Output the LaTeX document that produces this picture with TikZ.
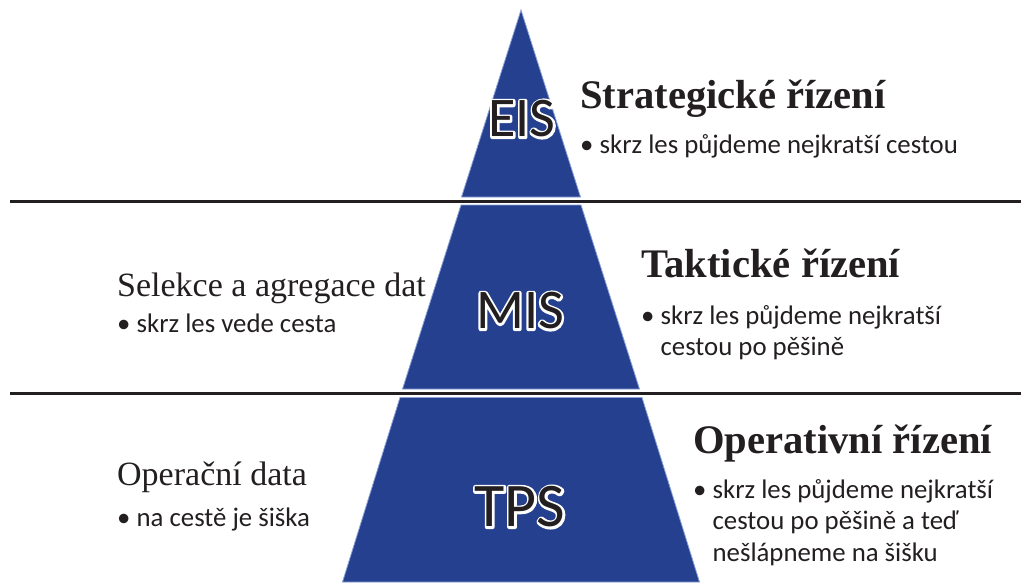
\documentclass[tikz,border=0pt]{standalone}
\usepackage{fontspec}
\setmainfont{Carlito}
\newfontfamily\headserif{Liberation Serif}
\definecolor{pyrblue}{RGB}{36,64,143}
\definecolor{pyredge}{RGB}{140,162,214}
\definecolor{rulegray}{RGB}{35,31,32}
\definecolor{inkblack}{RGB}{35,31,32}
% letters with a white halo: a stroked white copy under the filled one
\newcommand{\haloed}[1]{\rlap{\textcolor{white}{\special{pdf:literal direct 2 Tr 4.4 w 1 j}#1\special{pdf:literal direct 0 Tr}}}#1}
% bullet item whose continuation lines hang under the first word
\newcommand{\hangitem}[1]{\begin{tabular}[t]{@{}l@{}}#1\end{tabular}}
\newcommand{\bulletgap}{\hphantom{\textbullet\ }}
\begin{document}
\begin{tikzpicture}[x=1pt,y=-1pt,
  tier/.style={fill=pyrblue, draw=pyredge, line width=0.8pt, line join=miter},
  divider/.style={draw=rulegray, line width=2.6pt},
  tag/.style={inner sep=0pt, text=inkblack},
  heading/.style={anchor=base west, inner sep=0pt, text=inkblack,
    font=\headserif\bfseries\fontsize{40.6}{41}\selectfont},
  sidehead/.style={anchor=base west, inner sep=0pt, text=inkblack,
    font=\headserif\fontsize{34}{34}\selectfont},
  bullets/.style={anchor=base west, inner sep=0pt, text=inkblack,
    font=\fontsize{26.8}{31.5}\selectfont}
]
\useasboundingbox (0,0) rectangle (1021,582);

% pyramid tiers
\path[tier] (521,10) -- (580.5,197) -- (461.5,197) -- cycle;
\path[tier] (461,205) -- (581,205) -- (639.5,389) -- (402.5,389) -- cycle;
\path[tier] (400,397.5) -- (642,397.5) -- (699.5,582) -- (342.5,582) -- cycle;

% dividing rules
\coordinate (r1a) at (10,201.5);
\coordinate (r1b) at (1021,201.5);
\coordinate (r2a) at (10,393.5);
\coordinate (r2b) at (1021,393.5);
\draw[divider] (r1a) -- (r1b);
\draw[divider] (r2a) -- (r2b);

% tier labels
\node[tag, font=\fontsize{56}{56}\selectfont] (eis) at (522,119) {\haloed{EIS}};
\node[tag, font=\fontsize{56}{56}\selectfont] (mis) at (520,311) {\haloed{MIS}};
\node[tag, font=\fontsize{62}{62}\selectfont] (tps) at (520,507) {\haloed{TPS}};

% right-hand descriptions
\node[heading] (h1) at (580,108) {Strategické řízení};
\node[bullets] (b1) at (580,153) {\textbullet\ skrz les půjdeme nejkratší cestou};

\node[heading] (h2) at (641,277) {Taktické řízení};
\node[bullets] (b2) at (641,324) {\hangitem{\textbullet\ skrz les půjdeme nejkratší\\
  \bulletgap cestou po pěšině}};

\node[heading] (h3) at (693,453) {Operativní řízení};
\node[bullets] (b3) at (693,498) {\hangitem{\textbullet\ skrz les půjdeme nejkratší\\
  \bulletgap cestou po pěšině a teď\\
  \bulletgap nešlápneme na šišku}};

% left-hand descriptions
\node[sidehead] (s2) at (117,296) {Selekce a agregace dat};
\node[bullets] (c2) at (117,332) {\textbullet\ skrz les vede cesta};

\node[sidehead] (s3) at (117,485) {Operační data};
\node[bullets] (c3) at (117,526) {\textbullet\ na cestě je šiška};
\end{tikzpicture}
\end{document}
